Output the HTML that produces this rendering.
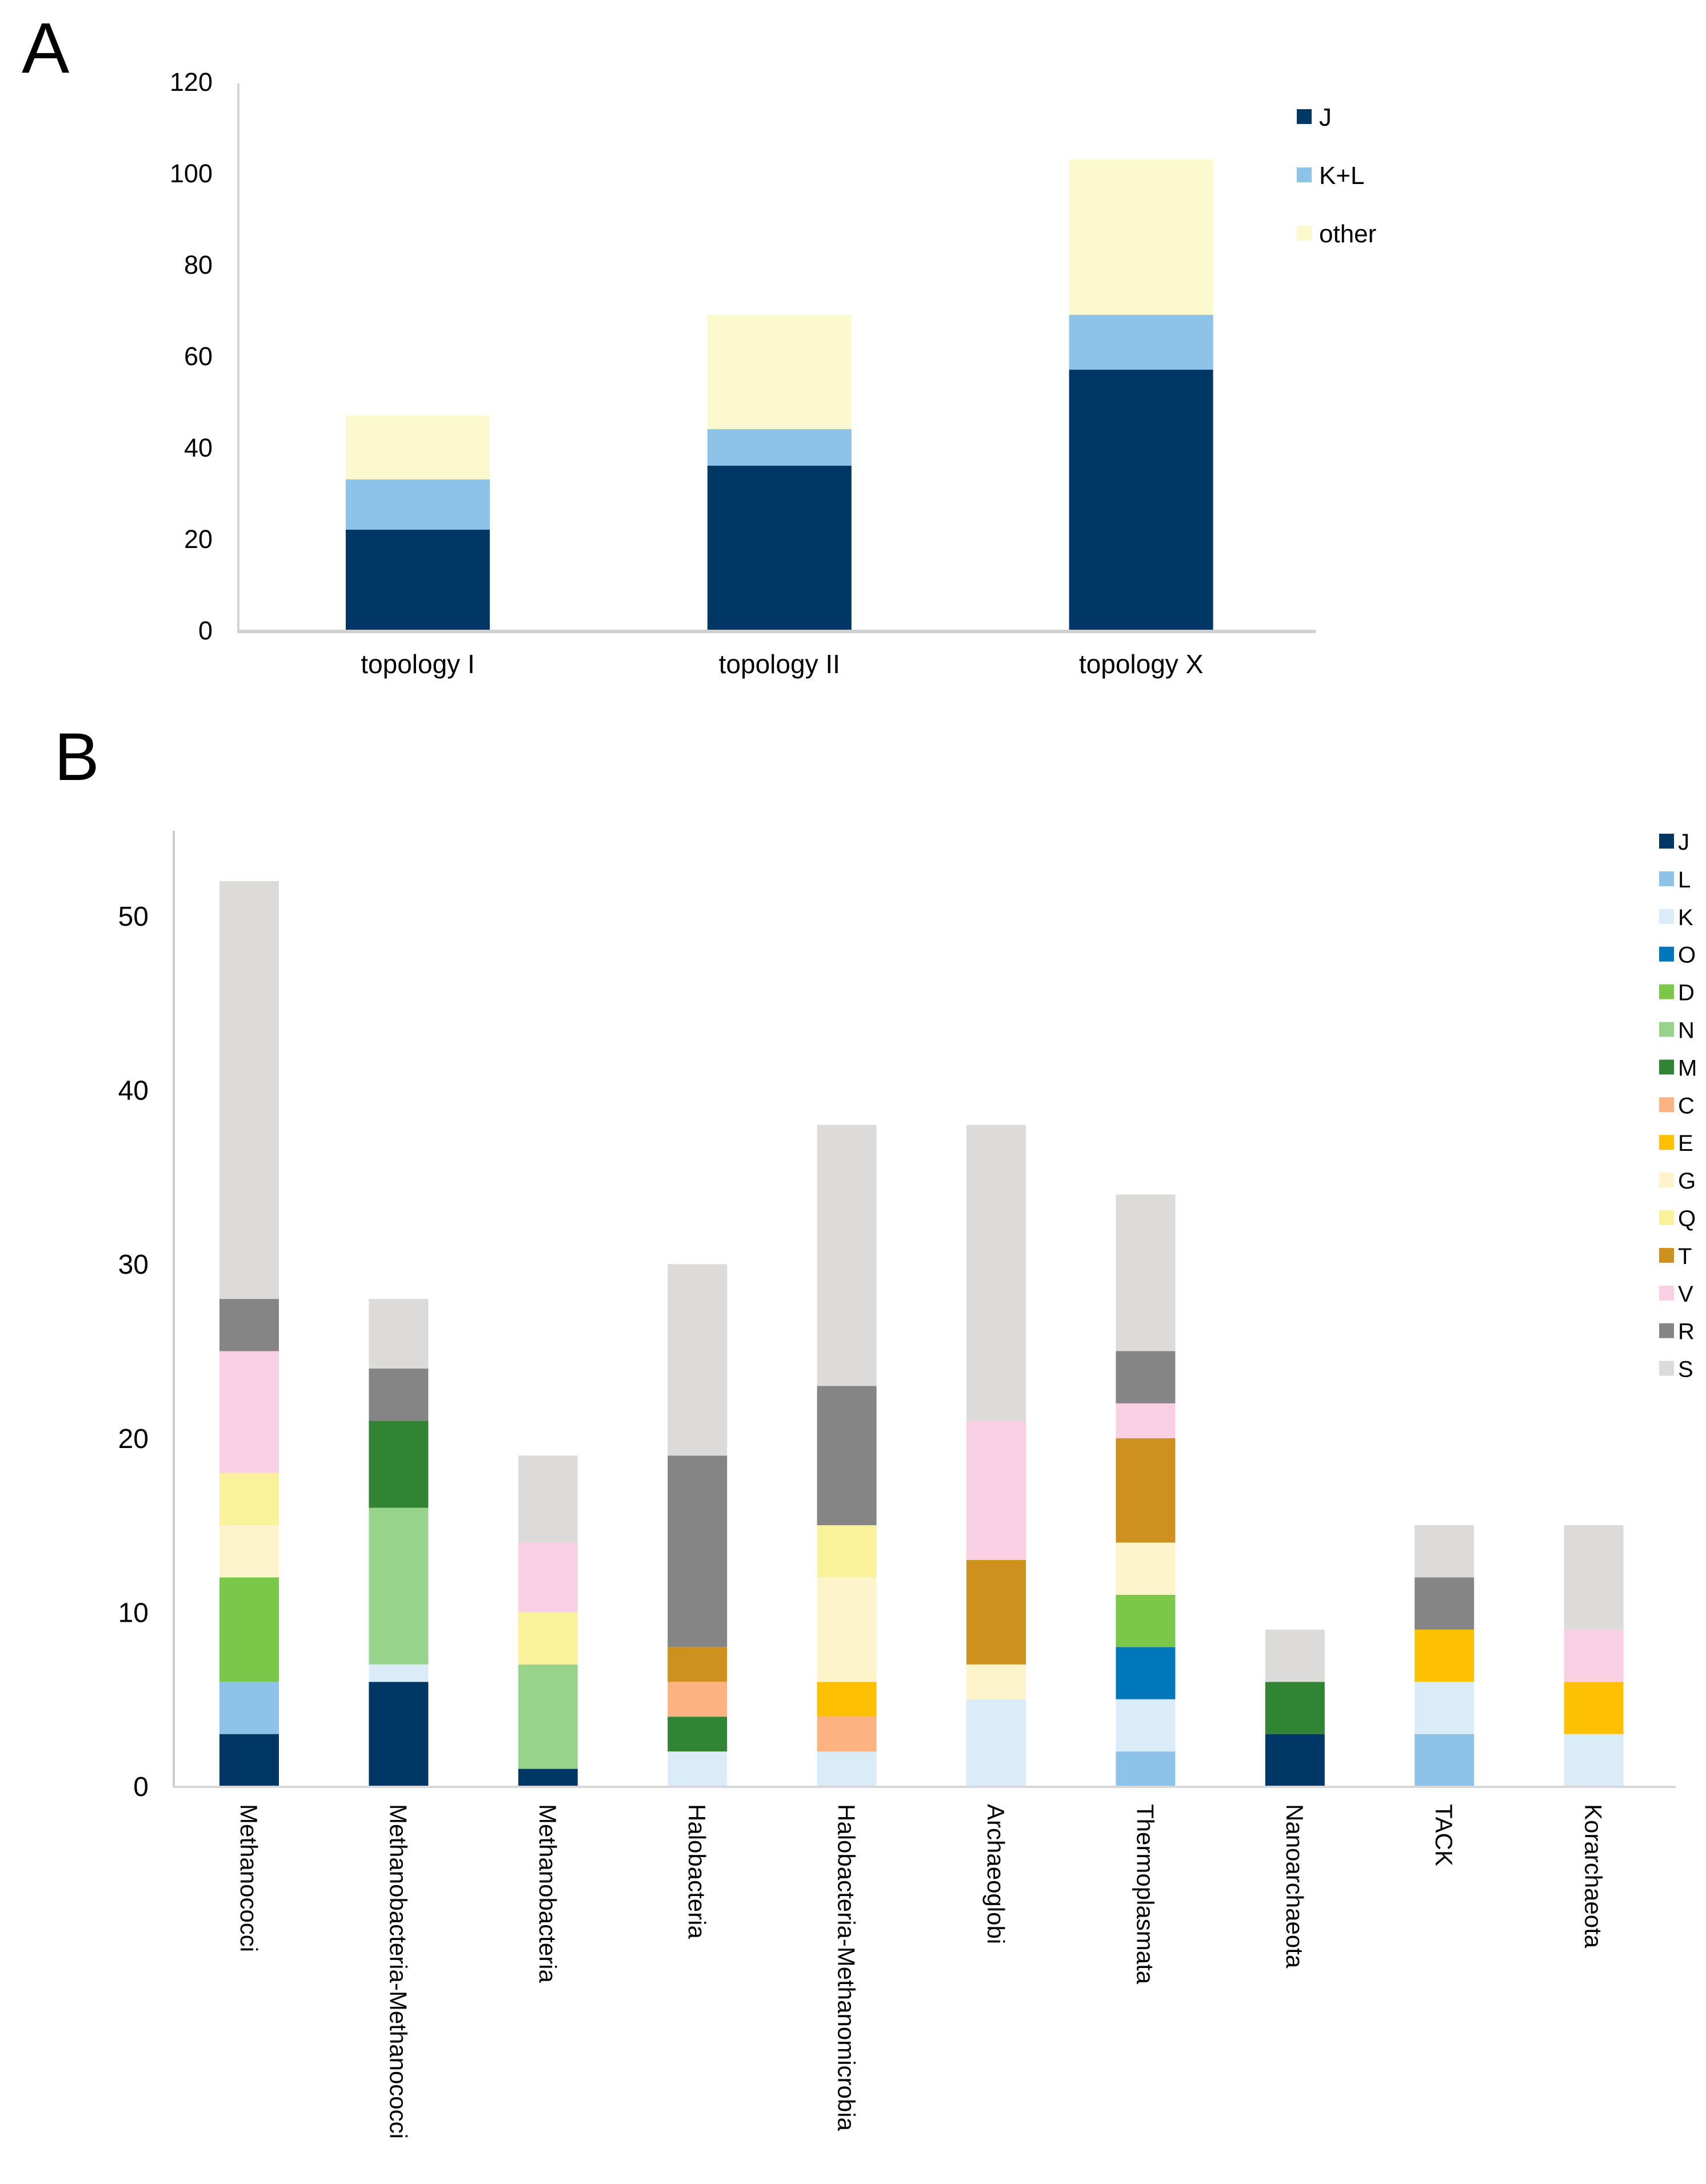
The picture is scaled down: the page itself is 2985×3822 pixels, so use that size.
<!DOCTYPE html>
<html><head><meta charset="utf-8"><style>
html,body{margin:0;padding:0;background:#fff}
svg{display:block}
text{font-family:"Liberation Sans",Arial,sans-serif;fill:#000}
</style></head><body>
<svg id="fig" width="2985" height="3822" viewBox="0 0 2985 3822" xmlns="http://www.w3.org/2000/svg">
<text x="38" y="127" font-size="125">A</text>
<text x="95" y="1365" font-size="118">B</text>
<g id="chartA"></g>
<g id="chartB"></g>
</svg>
<script>
// ---- Panel A data ----
const catsA = ["topology I", "topology II", "topology X"];
const seriesNamesA = ["J", "K+L", "other"];
const valJ_A = [22, 36, 57];
const valKL_A = [11, 8, 12];
const valOther_A = [14, 25, 34];
const ticksA = [0, 20, 40, 60, 80, 100, 120];

// ---- Panel B data ----
const catsB = ["Methanococci","Methanobacteria-Methanococci","Methanobacteria","Halobacteria","Halobacteria-Methanomicrobia","Archaeoglobi","Thermoplasmata","Nanoarchaeota","TACK","Korarchaeota"];
const seriesNamesB = ["J","L","K","O","D","N","M","C","E","G","Q","T","V","R","S"];
const vJ = [3,6,1,0,0,0,0,3,0,0];
const vL = [3,0,0,0,0,0,2,0,3,0];
const vK = [0,1,0,2,2,5,3,0,3,3];
const vO = [0,0,0,0,0,0,3,0,0,0];
const vD = [6,0,0,0,0,0,3,0,0,0];
const vN = [0,9,6,0,0,0,0,0,0,0];
const vM = [0,5,0,2,0,0,0,3,0,0];
const vC = [0,0,0,2,2,0,0,0,0,0];
const vE = [0,0,0,0,2,0,0,0,3,3];
const vG = [3,0,0,0,6,2,3,0,0,0];
const vQ = [3,0,3,0,3,0,0,0,0,0];
const vT = [0,0,0,2,0,6,6,0,0,0];
const vV = [7,0,4,0,0,8,2,0,0,3];
const vR = [3,3,0,11,8,0,3,0,3,0];
const vS = [24,4,5,11,15,17,9,3,3,6];
const ticksB = [0, 10, 20, 30, 40, 50];

const NS = "http://www.w3.org/2000/svg";
function mk(parent, tag, attrs, txt) {
  const e = document.createElementNS(NS, tag);
  for (const k in attrs) e.setAttribute(k, attrs[k]);
  if (txt !== undefined) e.textContent = txt;
  parent.appendChild(e);
  return e;
}

// ---- Draw A ----
(function(){
  const g = document.getElementById("chartA");
  const colors = ["#003764", "#8dc3e8", "#fcf9cf"];
  const series = [valJ_A, valKL_A, valOther_A];
  const y0 = 1103, pxPerUnit = 8.0;
  const yA = v => y0 - v * pxPerUnit;
  const xA = i => 731 + i * 632.8;
  const bw = 252;
  ticksA.forEach(t => {
    const tx = mk(g, "text", {x: 372, y: yA(t) + 16, "font-size": 45, "text-anchor": "end"}, String(t));
    
    
  });
  catsA.forEach((c, i) => {
    let acc = 0;
    series.forEach((s, k) => {
      const r = mk(g, "rect", {x: xA(i) - bw/2, y: yA(acc + s[i]), width: bw, height: s[i] * pxPerUnit, fill: colors[k]});
      
      
      acc += s[i];
    });
    const lb = mk(g, "text", {x: xA(i), y: 1178, "font-size": 46, "text-anchor": "middle"}, c);
    
    
  });
  const ax = mk(g, "line", {x1: 417, y1: 146, x2: 417, y2: 1105, stroke: "#d4d4d4", "stroke-width": 4});
  
  
  const bx = mk(g, "line", {x1: 415, y1: 1105, x2: 2302, y2: 1105, stroke: "#d0d0d0", "stroke-width": 6});
  
  
  seriesNamesA.forEach((n, k) => {
    const yy = 204 + k * 102;
    const sq = mk(g, "rect", {x: 2269, y: yy - 13, width: 26, height: 26, fill: colors[k]});
    
    
    const t = mk(g, "text", {x: 2308, y: yy + 16, "font-size": 44, fill: "#333"}, n);
    
    
  });
})();

// ---- Draw B ----
(function(){
  const g = document.getElementById("chartB");
  const colors = ["#003764","#8dc3e8","#daecf7","#0077bb","#7ac74a","#98d38b","#318434","#fdb282","#fdc002","#fdf4cc","#faf29a","#cf911e","#f9cfe3","#858585","#dcdbda"];
  const series = [vJ,vL,vK,vO,vD,vN,vM,vC,vE,vG,vQ,vT,vV,vR,vS];
  const y0 = 3126, pxPerUnit = 30.46;
  const yB = v => y0 - v * pxPerUnit;
  const xB = i => 436 + i * 261.4;
  const bw = 104;
  ticksB.forEach(t => {
    const tx = mk(g, "text", {x: 260, y: yB(t) + 17, "font-size": 48, "text-anchor": "end"}, String(t));
    
    
  });
  catsB.forEach((c, i) => {
    let acc = 0;
    series.forEach((s, k) => {
      if (!s[i]) return;
      const r = mk(g, "rect", {x: xB(i) - bw/2, y: yB(acc + s[i]), width: bw, height: s[i] * pxPerUnit, fill: colors[k]});
      
      
      acc += s[i];
    });
    const lb = mk(g, "text", {x: 0, y: 0, "font-size": 42, transform: "translate(" + (xB(i) - 15) + ",3157) rotate(90)"}, c);
    
    
  });
  const ax = mk(g, "line", {x1: 304, y1: 1454, x2: 304, y2: 3128, stroke: "#cccccc", "stroke-width": 4});
  
  
  const bx = mk(g, "line", {x1: 302, y1: 3127, x2: 2932, y2: 3127, stroke: "#d8d8d8", "stroke-width": 4});
  
  
  seriesNamesB.forEach((n, k) => {
    const yy = 1472 + k * 65.9;
    const sq = mk(g, "rect", {x: 2903, y: yy - 13, width: 26, height: 26, fill: colors[k]});
    
    
    const t = mk(g, "text", {x: 2936, y: yy + 15, "font-size": 40, fill: "#333"}, n);
    
    
  });
})();
</script>
</body></html>
